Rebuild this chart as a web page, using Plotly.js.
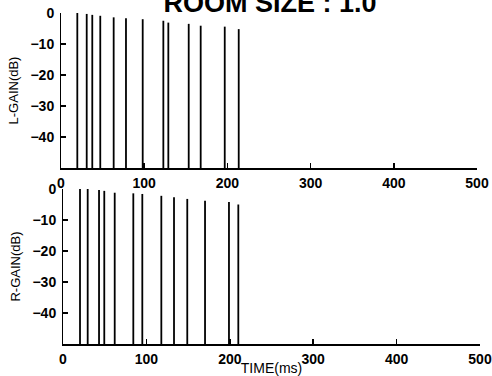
<!DOCTYPE html>
<html>
<head>
<meta charset="utf-8">
<script src="https://cdn.plot.ly/plotly-3.0.1.min.js"></script>
<style>html,body{margin:0;padding:0;background:#fff;}#chart{width:492px;height:376px;}</style>
</head>
<body>
<div id="chart"></div>
<script>
// Reflection times (ms) and gains (dB), left channel
const leftTimes = [19.6, 30.9, 37.6, 47.2, 63.3, 78.1, 98.2, 123.0, 129.0, 153.5, 167.9, 196.8, 213.6];
const leftGains = [0, -0.3, -0.6, -0.9, -1.4, -1.7, -2.0, -2.5, -3.1, -3.5, -4.1, -4.4, -5.2];
// Right channel
const rightTimes = [20.4, 29.6, 43.2, 49.5, 62.0, 84.3, 95.1, 117.9, 133.1, 149.0, 170.3, 199.0, 210.2];
const rightGains = [0, 0, -0.3, -0.6, -1.2, -1.4, -1.6, -2.2, -2.7, -3.2, -3.8, -4.2, -5.0];

const xTicks = [0, 100, 200, 300, 400, 500];
const yTicks = [0, -10, -20, -30, -40];
const floorDb = -50;

function stems(times, gains) {
  const x = [], y = [];
  times.forEach((t, i) => { x.push(t, t, null); y.push(floorDb, gains[i], null); });
  return {x, y};
}
const L = stems(leftTimes, leftGains);
const R = stems(rightTimes, rightGains);

const tickFont = {family: 'Liberation Sans Narrow, Liberation Sans, Arial', size: 14, color: '#000', weight: 700};
const titleFont = {family: 'Liberation Sans, Arial', size: 13, color: '#000'};

const traces = [
  {x: L.x, y: L.y, xaxis: 'x', yaxis: 'y', mode: 'lines', line: {color: '#000', width: 1.8}, hoverinfo: 'skip', showlegend: false},
  {x: R.x, y: R.y, xaxis: 'x2', yaxis: 'y2', mode: 'lines', line: {color: '#000', width: 1.8}, hoverinfo: 'skip', showlegend: false}
];

function xAxis(domain, anchor, title) {
  return {domain: domain, anchor: anchor, range: [0, 500], tickvals: xTicks, ticktext: xTicks.map(String),
    ticks: 'inside', ticklen: 5, tickwidth: 1.5, tickcolor: '#000', showline: true, linecolor: '#000', linewidth: 1.6,
    showgrid: false, zeroline: false, tickfont: tickFont, ticklabelstandoff: 2,
    title: title ? {text: title, font: {family: 'Liberation Sans, Arial', size: 14, color: '#000'}, standoff: 2} : undefined};
}
function yAxis(domain, anchor, title) {
  return {domain: domain, anchor: anchor, range: [floorDb, 0], tickvals: yTicks,
    ticks: 'inside', ticklen: 5, tickwidth: 1.2, tickcolor: '#000', showline: true, linecolor: '#000', linewidth: 1,
    showgrid: false, zeroline: false, tickfont: tickFont, ticklabelstandoff: 3,
    title: {text: title, font: titleFont, standoff: 8}};
}

const layout = {
  width: 492, height: 376,
  margin: {l: 0, r: 0, t: 0, b: 0},
  paper_bgcolor: '#fff', plot_bgcolor: '#fff',
  title: {text: 'ROOM SIZE : 1.0', font: {family: 'Liberation Sans, Arial', size: 27, color: '#000', weight: 700},
    xref: 'container', yref: 'container', x: 270/492, xanchor: 'center', y: 1 - 12/376, yanchor: 'bottom'},
  xaxis: xAxis([61/492, 477/492], 'y', null),
  yaxis: yAxis([1 - 168/376, 1 - 13/376], 'x', 'L-GAIN(dB)'),
  xaxis2: xAxis([63/492, 480/492], 'y2', 'TIME(ms)'),
  yaxis2: yAxis([1 - 344/376, 1 - 189/376], 'x2', 'R-GAIN(dB)')
};

Plotly.newPlot('chart', traces, layout, {staticPlot: true, displayModeBar: false});
</script>
</body>
</html>
